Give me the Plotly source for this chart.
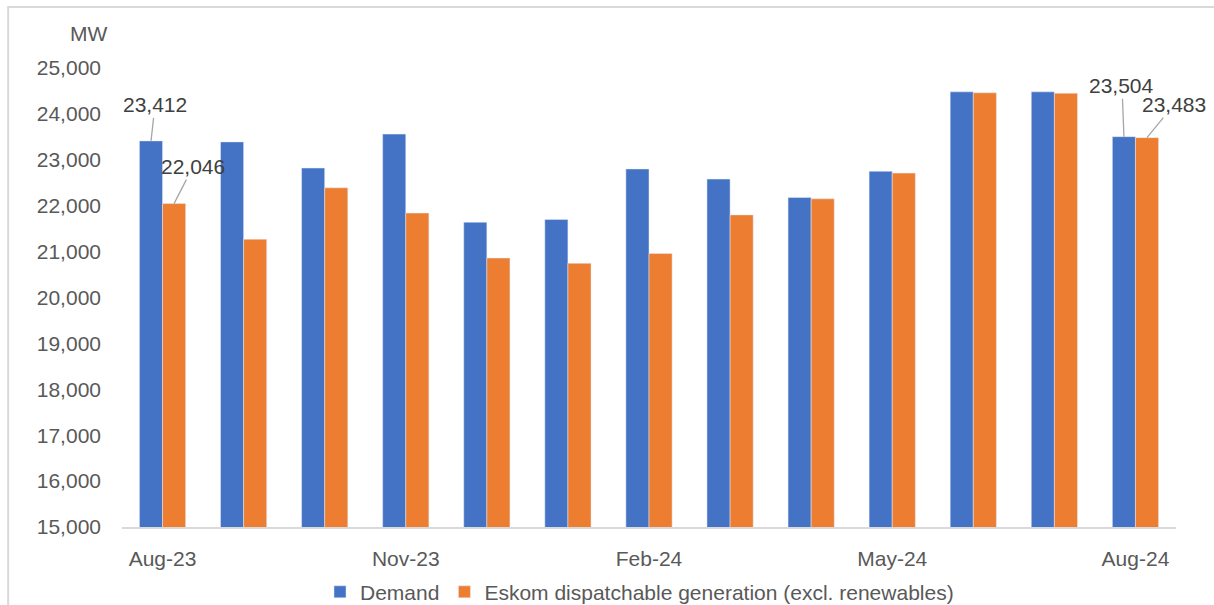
import plotly.graph_objects as go

# Monthly averages, MW
months = ["Aug-23", "Sep-23", "Oct-23", "Nov-23", "Dec-23", "Jan-24", "Feb-24",
          "Mar-24", "Apr-24", "May-24", "Jun-24", "Jul-24", "Aug-24"]
demand = [23412, 23390, 22820, 23560, 21640, 21700, 22800,
          22580, 22180, 22750, 24480, 24480, 23504]
dispatchable = [22046, 21270, 22390, 21840, 20860, 20745, 20960,
                21800, 22150, 22710, 24460, 24450, 23483]
shown_ticks = ["Aug-23", "Nov-23", "Feb-24", "May-24", "Aug-24"]

BLUE = "#4472C4"
ORANGE = "#ED7D31"
TXT = "#595959"
FONT = "Liberation Sans"

fig = go.Figure()
fig.add_bar(name="Demand", x=months, y=demand, marker_color=BLUE)
fig.add_bar(name="Eskom dispatchable generation (excl. renewables)",
            x=months, y=dispatchable, marker_color=ORANGE)

# labelled points: (month index, series offset, value, text offset px)
off = 0.142
labels = [
    (0, -off, demand[0], 4, -36),
    (0, off, dispatchable[0], 19, -37),
    (12, -off, demand[12], -2, -51),
    (12, off, dispatchable[12], 27, -33),
]
for i, dx, val, ax, ay in labels:
    fig.add_annotation(x=i + dx, y=val, xref="x", yref="y", text=f"{val:,}",
                       showarrow=True, arrowhead=0, arrowwidth=1.3,
                       arrowcolor="#a6a6a6", ax=ax, ay=ay,
                       font=dict(family=FONT, size=21, color="#404040"))

fig.add_annotation(x=-0.032, y=1.076, xref="paper", yref="paper", text="MW",
                   xanchor="center", yanchor="middle", showarrow=False,
                   font=dict(family=FONT, size=21, color=TXT))

# outer frame
fig.add_shape(type="path", xref="paper", yref="paper",
              path="M -0.108 -0.3 L -0.108 1.133 L 1.2 1.133",
              line=dict(color="#d9d9d9", width=2))

fig.update_layout(
    width=1214, height=605,
    margin=dict(l=122, r=38, t=68, b=78, autoexpand=False),
    paper_bgcolor="white", plot_bgcolor="white",
    barmode="group", bargap=0.43, bargroupgap=0,
    font=dict(family=FONT, size=21, color=TXT),
    legend=dict(orientation="h", x=0.491, xanchor="center", y=-0.142,
                yanchor="middle", font=dict(family=FONT, size=21, color=TXT),
                itemwidth=30, tracegroupgap=0),
    showlegend=True,
)
fig.update_xaxes(type="category", range=[-0.5, 12.5],
                 tickvals=shown_ticks, ticktext=shown_ticks,
                 showgrid=False, showline=True, linecolor="#d9d9d9", linewidth=1.5,
                 ticks="", ticklabelstandoff=12, tickfont=dict(size=21, color=TXT))
fig.update_yaxes(range=[15000, 25000], dtick=1000, tickformat=",", showgrid=False,
                 zeroline=False, ticks="", ticklabelstandoff=20,
                 tickfont=dict(size=21, color=TXT))

fig.write_html("out.html")
